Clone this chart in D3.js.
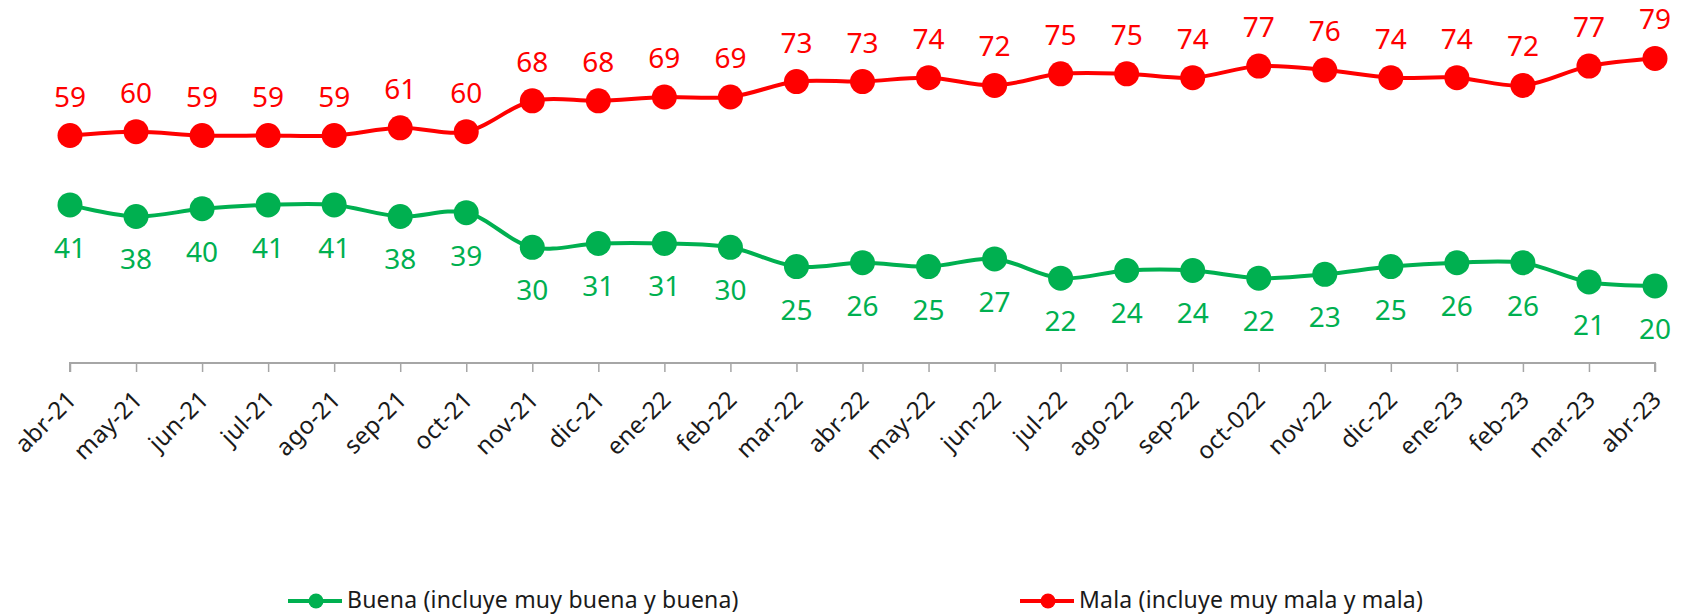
<!DOCTYPE html>
<html>
<head>
<meta charset="utf-8">
<script src="https://cdn.jsdelivr.net/npm/d3@7"></script>
<style>
	body { margin: 0; background: #fff; }
	text { font-family: 'Noto Sans', sans-serif; }
</style>
</head>
<body>
<div id="chart"></div>
<script>
const months = ['abr-21', 'may-21', 'jun-21', 'jul-21', 'ago-21', 'sep-21', 'oct-21', 'nov-21', 'dic-21',
	'ene-22', 'feb-22', 'mar-22', 'abr-22', 'may-22', 'jun-22', 'jul-22', 'ago-22', 'sep-22', 'oct-022',
	'nov-22', 'dic-22', 'ene-23', 'feb-23', 'mar-23', 'abr-23']
const mala = [59, 60, 59, 59, 59, 61, 60, 68, 68, 69, 69, 73, 73, 74, 72, 75, 75, 74, 77, 76, 74, 74, 72, 77, 79]
const buena = [41, 38, 40, 41, 41, 38, 39, 30, 31, 31, 30, 25, 26, 25, 27, 22, 24, 24, 22, 23, 25, 26, 26, 21, 20]

const series = [
	{ name: 'Buena (incluye muy buena y buena)', values: buena, color: '#00B050', above: false },
	{ name: 'Mala (incluye muy mala y mala)', values: mala, color: '#FF0000', above: true }
]

const width = 1685
const height = 616
const svg = d3.select('#chart').append('svg').attr('width', width).attr('height', height)

// x positions: one point per month
const x = d3.scalePoint().domain(months).range([70, 1655])
const y = d3.scaleLinear().domain([0, 90]).range([363, 16])

// axis
const axis = d3.axisBottom(x).tickSize(9).tickFormat('')
const axisG = svg.append('g').attr('transform', `translate(0, ${y(0)})`).call(axis)
axisG.select('.domain').attr('stroke', '#a6a6a6').attr('stroke-width', 2).attr('d', `M${x(months[0])},9V0H${x(months[months.length - 1])}V9`)
axisG.selectAll('.tick line').attr('stroke', '#a6a6a6').attr('stroke-width', 1.5)

svg.append('g')
	.selectAll('text')
	.data(months)
	.enter()
	.append('text')
	.attr('transform', (d) => `translate(${x(d) + 8}, ${y(0) + 38}) rotate(-45)`)
	.attr('text-anchor', 'end')
	.attr('font-size', '24px')
	.attr('letter-spacing', '0.3px')
	.attr('fill', '#1a1a1a')
	.text((d) => d)

const line = d3.line()
	.x((d, i) => x(months[i]))
	.y((d) => y(d))
	.curve(d3.curveCatmullRom.alpha(0.5))

series.forEach(function (s) {
	const g = svg.append('g')
	g.append('path')
		.attr('d', line(s.values))
		.attr('fill', 'none')
		.attr('stroke', s.color)
		.attr('stroke-width', 4)

	g.selectAll('circle')
		.data(s.values)
		.enter()
		.append('circle')
		.attr('cx', (d, i) => x(months[i]))
		.attr('cy', (d) => y(d))
		.attr('r', 12.5)
		.attr('fill', s.color)

	g.selectAll('text')
		.data(s.values)
		.enter()
		.append('text')
		.attr('x', (d, i) => x(months[i]))
		.attr('y', (d) => s.above ? y(d) - 29 : y(d) + 53)
		.attr('text-anchor', 'middle')
		.attr('font-size', '28px')
		.attr('fill', s.color)
		.text((d) => d)
})

// legend
const legendX = [288, 1020]
const legend = svg.append('g')
series.forEach(function (s, i) {
	const lg = legend.append('g').attr('transform', `translate(${legendX[i]}, 601)`)
	lg.append('line').attr('x1', 0).attr('x2', 54).attr('stroke', s.color).attr('stroke-width', 4)
	lg.append('circle').attr('cx', 28).attr('r', 7.5).attr('fill', s.color)
	lg.append('text')
		.attr('x', 59)
		.attr('y', 7)
		.attr('font-size', '23px')
		.attr('letter-spacing', '0.2px')
		.attr('fill', '#1a1a1a')
		.text(s.name)
})
</script>
</body>
</html>
